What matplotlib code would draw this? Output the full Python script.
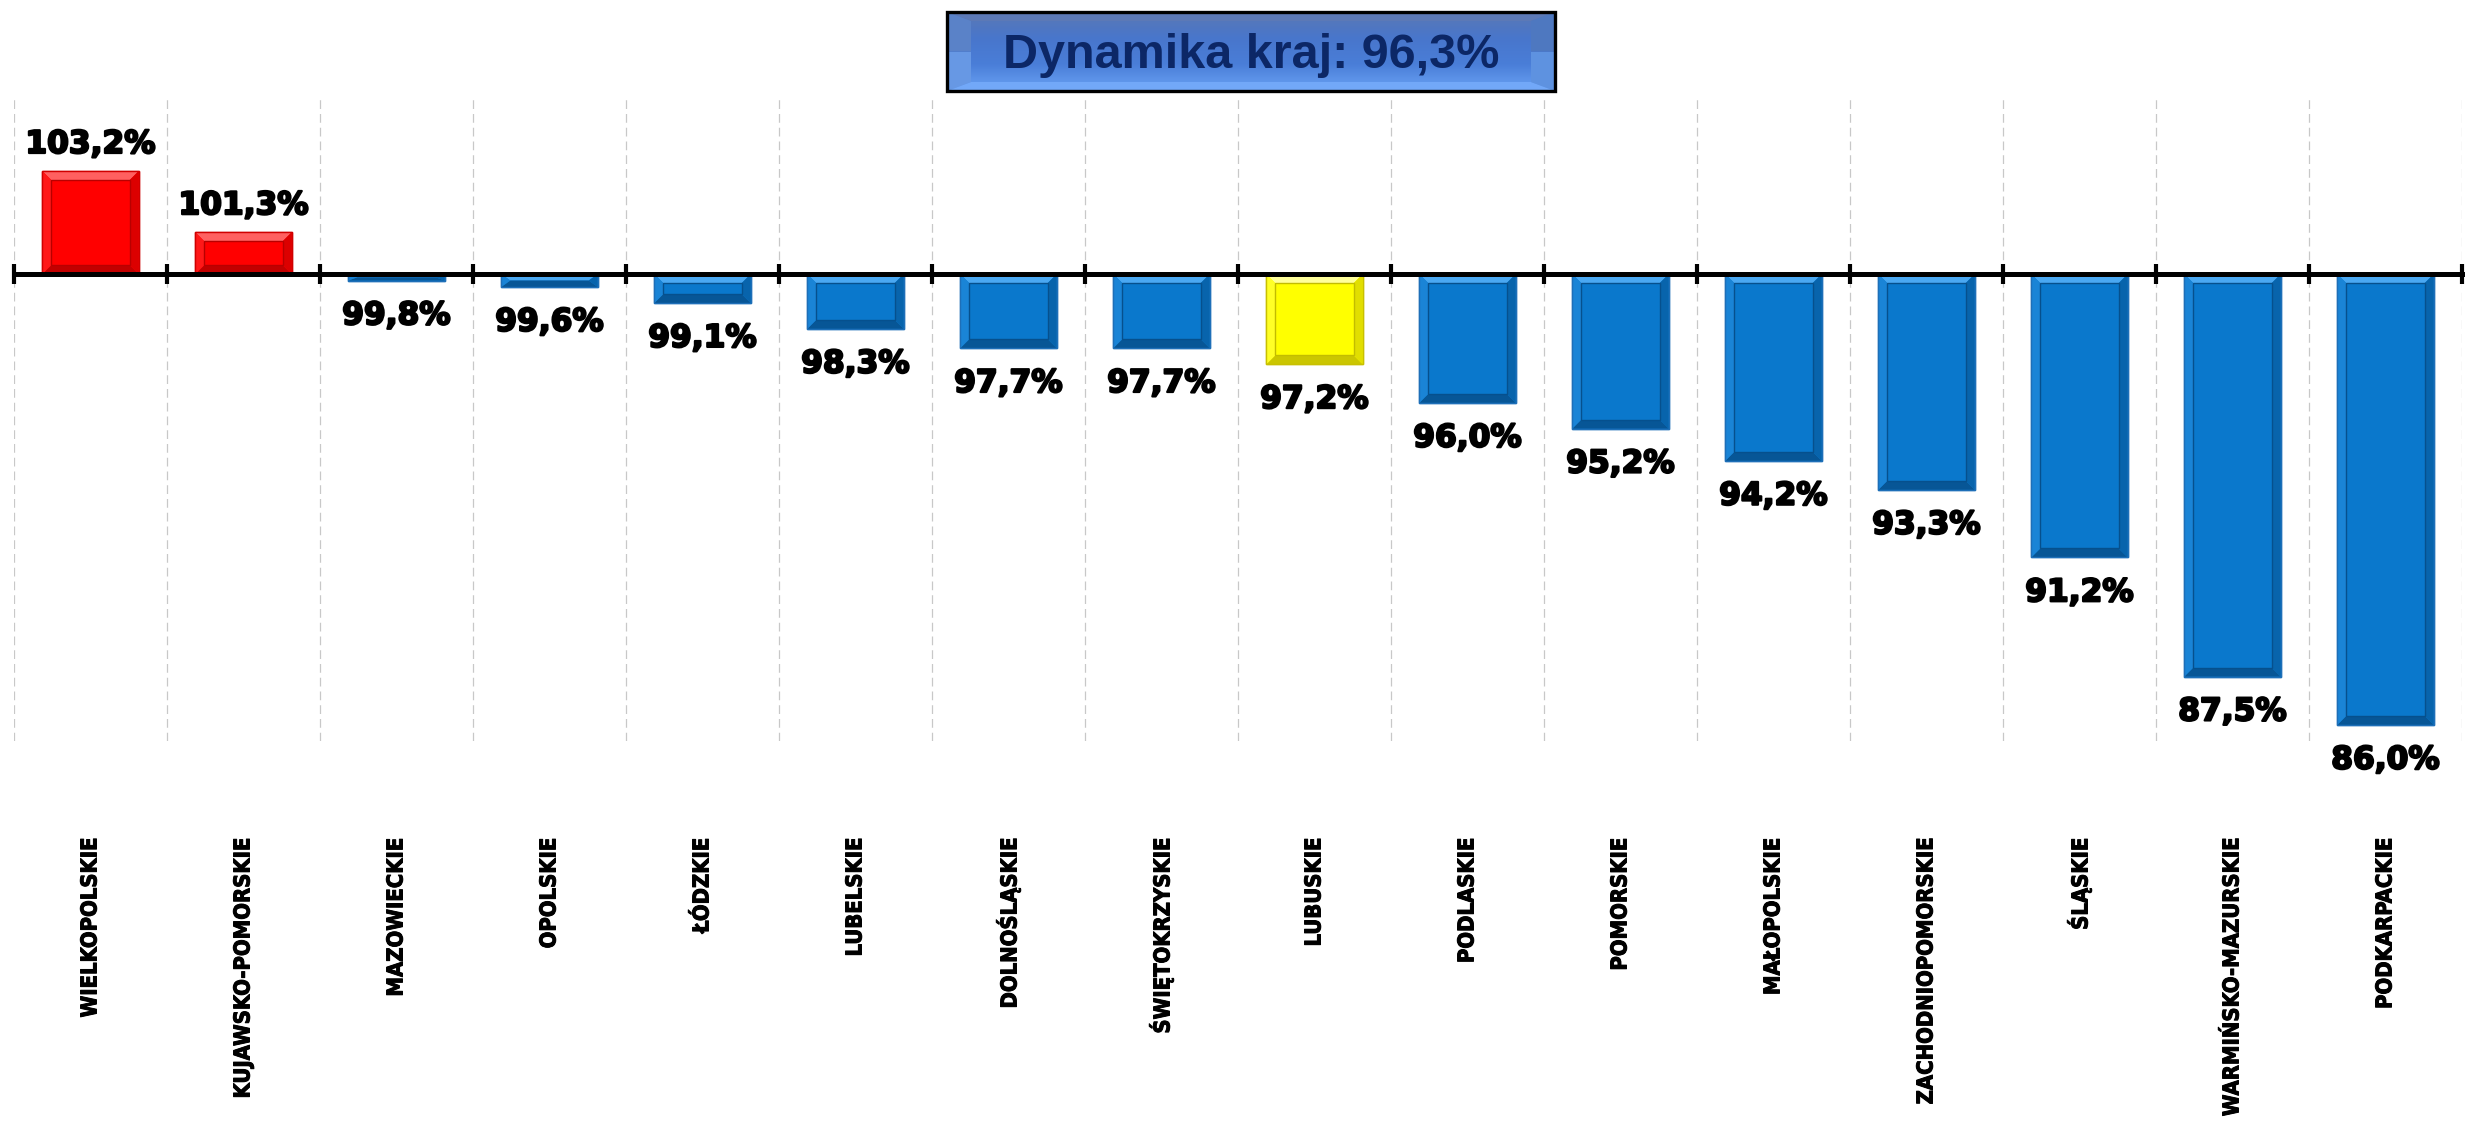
import matplotlib
matplotlib.use('Agg')
import matplotlib.pyplot as plt
from matplotlib import font_manager
from matplotlib.font_manager import FontProperties
from matplotlib.patches import Polygon, Rectangle
import matplotlib.patheffects as pe
import matplotlib.transforms as mtransforms
import matplotlib.colors as mcolors
import numpy as np

# ---------------- data ----------------
categories = ['WIELKOPOLSKIE', 'KUJAWSKO-POMORSKIE', 'MAZOWIECKIE', 'OPOLSKIE',
              'ŁÓDZKIE', 'LUBELSKIE', 'DOLNOŚLĄSKIE', 'ŚWIĘTOKRZYSKIE', 'LUBUSKIE',
              'PODLASKIE', 'POMORSKIE', 'MAŁOPOLSKIE', 'ZACHODNIOPOMORSKIE',
              'ŚLĄSKIE', 'WARMIŃSKO-MAZURSKIE', 'PODKARPACKIE']
values = [103.2, 101.3, 99.8, 99.6, 99.1, 98.3, 97.7, 97.7, 97.2,
          96.0, 95.2, 94.2, 93.3, 91.2, 87.5, 86.0]
baseline = 100.0
highlight = ['LUBUSKIE']
title_text = 'Dynamika kraj: 96,3%'

W, H = 2468, 1122
fig = plt.figure(figsize=(W / 100, H / 100), dpi=100)
renderer = fig.canvas.get_renderer()

# ---------------- fonts ----------------
cands = []
for f in font_manager.fontManager.ttflist:
    nm = f.name.lower()
    wt = f.weight if isinstance(f.weight, int) else {'bold': 700}.get(str(f.weight).lower(), 400)
    if ('narrow' in nm or 'condensed' in nm or str(f.stretch) in ('condensed', 'semi-condensed')) \
            and wt >= 700 and f.style == 'normal':
        pri = 0 if 'liberation' in nm else 1
        cands.append((pri, f.fname))
cands.sort()
if cands:
    cat_prop = FontProperties(fname=cands[0][1], size=18)
else:
    cat_prop = FontProperties(family='Liberation Sans', weight='bold', size=18)
# scale so that the label lengths match the reference (~170 px / ~270 px)
w1 = renderer.get_text_width_height_descent('WIELKOPOLSKIE', cat_prop, ismath=False)[0]
w2 = renderer.get_text_width_height_descent('KUJAWSKO-POMORSKIE', cat_prop, ismath=False)[0]
scale = 0.5 * (172.0 / w1 + 272.0 / w2)
cat_prop.set_size(18 * scale)


def px_rect(l, t, r, b):
    return [l / W, 1 - b / H, (r - l) / W, (b - t) / H]


ax = fig.add_axes(px_rect(14, 97, 2462, 741))
ax.set_xlim(-0.5, len(categories) - 0.5)
ax.set_ylim(85.5, 105.5)

x = np.arange(len(categories))
vals = np.array(values)


def style_for(cat, v):
    if cat in highlight:
        return '#FFFF00', '#FFFF9A', '#A8A000', '#C8C000'
    if v > baseline:
        return '#FF0000', '#FF6060', '#9A0000', '#D00000'
    return '#0A78CC', '#4AA8F2', '#053F72', '#1E6FB8'


face_cols = [style_for(c, v)[0] for c, v in zip(categories, values)]
bars = ax.bar(x, vals - baseline, bottom=baseline, width=0.63,
              color=face_cols, edgecolor=[style_for(c, v)[3] for c, v in zip(categories, values)],
              linewidth=1.0, zorder=3)

# bevel effect
p0 = ax.transData.transform((0, 0))
p1 = ax.transData.transform((1, 1))
ppx = p1[0] - p0[0]
ppy = p1[1] - p0[1]
bev_px = 9.0


def mix(a, b, t):
    return mcolors.to_hex((1 - t) * np.array(mcolors.to_rgb(a)) + t * np.array(mcolors.to_rgb(b)))


for bar, c, v in zip(bars, categories, values):
    base, light, dark, mid = style_for(c, v)
    x0 = bar.get_x()
    x1 = x0 + bar.get_width()
    ya = bar.get_y()
    yb = ya + bar.get_height()
    y0, y1 = min(ya, yb), max(ya, yb)
    bx = bev_px / ppx
    by = min(bev_px / ppy, (y1 - y0) / 2.0)
    polys = [
        ([(x0, y1), (x1, y1), (x1 - bx, y1 - by), (x0 + bx, y1 - by)], light),
        ([(x0, y0), (x1, y0), (x1 - bx, y0 + by), (x0 + bx, y0 + by)], mix(base, dark, 0.6)),
        ([(x0, y0), (x0, y1), (x0 + bx, y1 - by), (x0 + bx, y0 + by)], mix(base, light, 0.25)),
        ([(x1, y0), (x1, y1), (x1 - bx, y1 - by), (x1 - bx, y0 + by)], mix(base, dark, 0.35)),
    ]
    for pts, col in polys:
        ax.add_patch(Polygon(pts, closed=True, facecolor=col, edgecolor='none', zorder=4))
    inner_h = (y1 - y0) - 2 * by
    if inner_h > 1e-6:
        ax.add_patch(Rectangle((x0 + bx, y0 + by), (x1 - x0) - 2 * bx, inner_h,
                               facecolor=base, edgecolor=mix(base, dark, 0.7), linewidth=1.0, zorder=5))
    ax.add_patch(Rectangle((x0, y0), x1 - x0, y1 - y0, facecolor='none',
                           edgecolor=mid, linewidth=1.0, zorder=6))

# value labels
stroke = [pe.withStroke(linewidth=1.6, foreground='black')]
for xi, v in zip(x, values):
    txt = f'{v:.1f}'.replace('.', ',') + '%'
    if v >= baseline:
        ax.annotate(txt, (xi, v), xytext=(0, 13), textcoords='offset points',
                    ha='center', va='baseline', fontsize=22.5, fontweight='bold',
                    family='DejaVu Sans', color='black', zorder=7, annotation_clip=False,
                    path_effects=stroke)
    else:
        ax.annotate(txt, (xi, v), xytext=(0, -15), textcoords='offset points',
                    ha='center', va='top', fontsize=22.5, fontweight='bold',
                    family='DejaVu Sans', color='black', zorder=7, annotation_clip=False,
                    path_effects=stroke)

# axis / grid
bounds = np.arange(len(categories) + 1) - 0.5
ax.set_xticks(bounds)
ax.set_yticks([])
ax.grid(axis='x', color='#C8C8C8', linestyle=(0, (7, 4)), linewidth=0.9, zorder=0)
for s in ['left', 'right', 'top']:
    ax.spines[s].set_visible(False)
ax.spines['bottom'].set_position(('data', baseline))
ax.spines['bottom'].set_linewidth(3.6)
ax.spines['bottom'].set_zorder(8)
ax.tick_params(axis='x', which='major', direction='inout', length=14.5, width=3,
               color='black', labelbottom=False)

# category labels
trans = mtransforms.blended_transform_factory(ax.transData, ax.transAxes)
cat_stroke = [pe.withStroke(linewidth=0.7, foreground='black')]
for xi, c in zip(x, categories):
    ax.text(xi, -0.1506, c, transform=trans, rotation=90, ha='center', va='top',
            fontproperties=cat_prop, color='black', path_effects=cat_stroke)

# title box
bax = fig.add_axes(px_rect(947, 12, 1555, 91))
bax.set_xlim(0, 1)
bax.set_ylim(0, 1)
bax.axis('off')
grad = np.linspace(0, 1, 100)[:, None]
cmap = mcolors.LinearSegmentedColormap.from_list(
    'tb', ['#5A78B4', '#4876CC', '#4A7ED8', '#6AA2F4'])
bax.imshow(grad, extent=(0, 1, 0, 1), aspect='auto', cmap=cmap, origin='upper', zorder=0)
bw = 24 / 608.0
bh = 9 / 79.0
bevels = [
    ([(0, 1), (1, 1), (1 - bw, 1 - bh), (bw, 1 - bh)], '#5C79B6'),
    ([(0, 0), (1, 0), (1 - bw, bh), (bw, bh)], '#72A8F8'),
    ([(0, 0), (0, 0.5), (bw, 0.5), (bw, bh)], '#6798E4'),
    ([(0, 0.5), (0, 1), (bw, 1 - bh), (bw, 0.5)], '#5A82C8'),
    ([(1, 0), (1, 0.5), (1 - bw, 0.5), (1 - bw, bh)], '#5E92E0'),
    ([(1, 0.5), (1, 1), (1 - bw, 1 - bh), (1 - bw, 0.5)], '#4E78C0'),
]
for pts, col in bevels:
    bax.add_patch(Polygon(pts, closed=True, facecolor=col, edgecolor='none', zorder=1))
bax.add_patch(Rectangle((0, 0), 1, 1, facecolor='none', edgecolor='black',
                        linewidth=2.4, zorder=2, clip_on=False))
fig.text(1251.5 / W, 1 - 68 / H, title_text, ha='center', va='baseline',
         fontsize=35, fontweight='bold', family='Liberation Sans', color='#0C2766')

fig.savefig('out.png', dpi=100)
